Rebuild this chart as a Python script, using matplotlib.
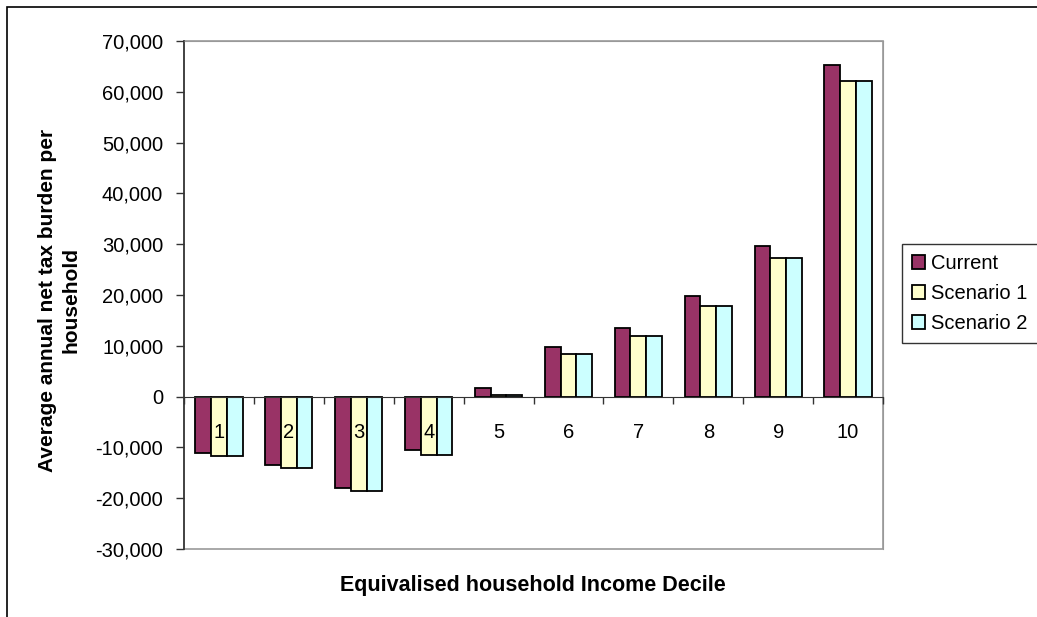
import matplotlib.pyplot as plt
import matplotlib.ticker as mticker
from matplotlib.patches import Rectangle
import numpy as np

plt.rcParams['font.family'] = ['Liberation Sans', 'DejaVu Sans']

# average annual net tax burden per household, by income decile
deciles = ['1', '2', '3', '4', '5', '6', '7', '8', '9', '10']
current = [-11200, -13500, -17950, -10600, 1600, 9750, 13500, 19800, 29700, 65200]
scenario1 = [-11650, -14000, -18500, -11550, 400, 8450, 12000, 17900, 27300, 62100]
scenario2 = [-11650, -14000, -18500, -11550, 400, 8450, 12000, 17900, 27300, 62100]
series_names = ['Current', 'Scenario 1', 'Scenario 2']
colors = ['#993366', '#FFFFCC', '#CCFFFF']

fig = plt.figure(figsize=(10.37, 6.17), dpi=100)
ax = fig.add_axes([184 / 1037, 1 - 549 / 617, 699 / 1037, 508 / 617])

x = np.arange(len(deciles))
w = 0.225
for i, (vals, name, c) in enumerate(zip([current, scenario1, scenario2], series_names, colors)):
    ax.bar(x + (i - 1) * w, vals, w, color=c, edgecolor='black', linewidth=1.3, label=name, zorder=1)
ax.set_axisbelow(False)  # decile labels sit on top of the bars

ax.set_xlim(-0.5, len(deciles) - 0.5)
ax.set_ylim(-30000, 70000)
ax.yaxis.set_major_locator(mticker.MultipleLocator(10000))
ax.yaxis.set_major_formatter(mticker.FuncFormatter(lambda v, p: f'{int(v):,}'))

# category axis sits on zero, labels just below it
ax.spines['bottom'].set_position(('data', 0))
ax.spines['bottom'].set_color('#333333')
ax.spines['left'].set_color('#333333')
ax.spines['left'].set_linewidth(1.2)
ax.spines['top'].set_color('#999999')
ax.spines['right'].set_color('#999999')
ax.set_xticks(x)
ax.set_xticklabels(deciles)
ax.set_xticks(np.arange(-0.5, len(deciles), 1), minor=True)
ax.tick_params(axis='x', which='major', length=0, pad=19, labelsize=14.5)
ax.tick_params(axis='x', which='minor', length=5, width=1, color='#333333', direction='out')
ax.tick_params(axis='y', length=6, width=1, color='#333333', labelsize=14.5, pad=9)

# plot-area frame
ax.add_patch(Rectangle((0, 0), 1, 1, transform=ax.transAxes, fill=False,
                       edgecolor='#999999', linewidth=1.2, clip_on=False, zorder=0))

fig.text(533 / 1037, 1 - 585 / 617, 'Equivalised household Income Decile',
         ha='center', va='center', fontsize=15.5, fontweight='bold')
fig.text(59 / 1037, 1 - 300 / 617, 'Average annual net tax burden per\nhousehold',
         ha='center', va='center', rotation=90, fontsize=15, fontweight='bold',
         multialignment='center', linespacing=1.3)

leg = ax.legend(loc='upper left', bbox_to_anchor=(902 / 1037, 1 - 244 / 617),
                bbox_transform=fig.transFigure, frameon=True, fancybox=False,
                fontsize=14.5, handlelength=0.65, handleheight=0.65, handletextpad=0.3,
                labelspacing=0.55, borderpad=0.5, borderaxespad=0)
leg.get_frame().set_edgecolor('black')
leg.get_frame().set_linewidth(1.0)

# outer chart border
fig.patches.append(Rectangle((7 / 1037, -0.1), 1.2, 1 - 7 / 617 + 0.1, transform=fig.transFigure,
                             fill=False, edgecolor='black', linewidth=1.2, figure=fig))

fig.savefig('out.png', dpi=100)
